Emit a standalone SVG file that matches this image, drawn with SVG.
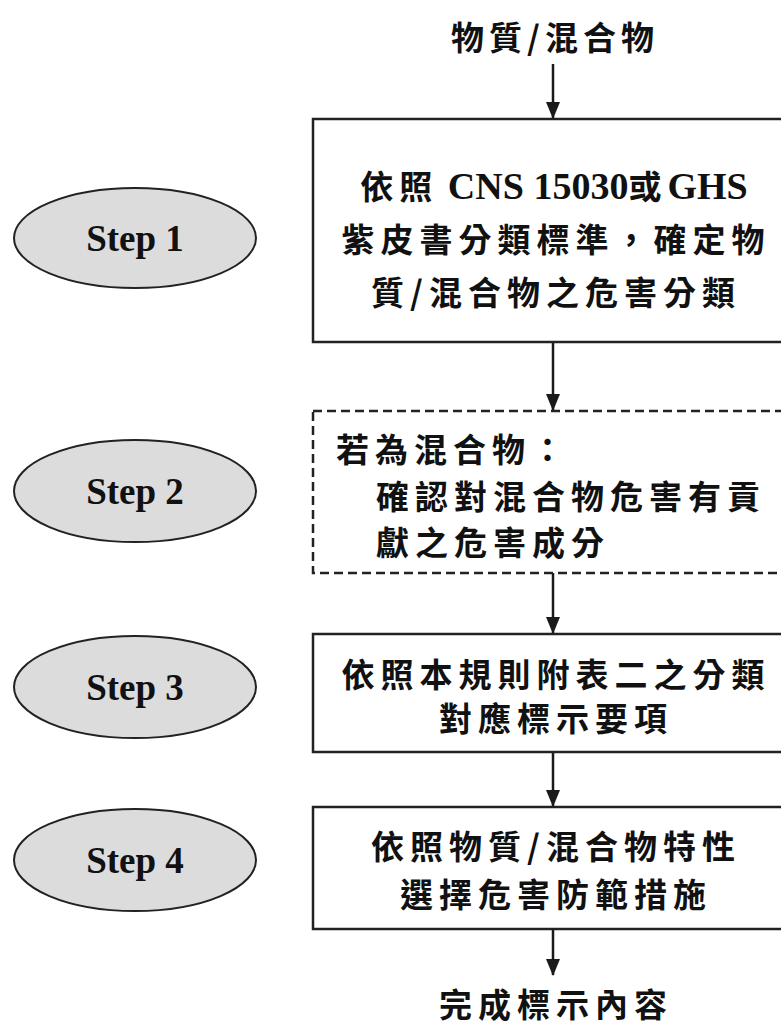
<svg xmlns="http://www.w3.org/2000/svg" width="781" height="1026" viewBox="0 0 781 1026">
<defs>
<marker id="ah" markerWidth="17" markerHeight="14" refX="16" refY="7" orient="auto" markerUnits="userSpaceOnUse" viewBox="0 0 17 14">
<path d="M0,0 L17,7 L0,14 Z" fill="#1a1a1a"/>
</marker>
<style>
.box{fill:#fff;stroke:#222;stroke-width:2.5}
.dash{fill:#fff;stroke:#222;stroke-width:2.5;stroke-dasharray:9 5}
.ell{fill:#dcdcdc;stroke:#222;stroke-width:2}
.step{font-family:"Liberation Serif",serif;font-weight:bold;font-size:37px;fill:#111;text-anchor:middle}
.zh{font-family:"Noto Sans CJK TC","Noto Sans CJK SC",sans-serif;font-weight:bold;font-size:33px;letter-spacing:6px;fill:#111}
.mid{text-anchor:middle}
.lat{font-family:"Liberation Serif",serif;font-weight:bold;font-size:38px;letter-spacing:0}
.conn{stroke:#1a1a1a;stroke-width:2.5;fill:none}
</style>
</defs>

<g id="connectors">
<line class="conn" x1="553" y1="64" x2="553" y2="118" marker-end="url(#ah)"/>
<line class="conn" x1="553" y1="343" x2="553" y2="410" marker-end="url(#ah)"/>
<line class="conn" x1="553" y1="573" x2="553" y2="633" marker-end="url(#ah)"/>
<line class="conn" x1="553" y1="752" x2="553" y2="806" marker-end="url(#ah)"/>
<line class="conn" x1="553" y1="929" x2="553" y2="975" marker-end="url(#ah)"/>
</g>

<g id="start">
<text class="zh mid" x="555" y="50" style="letter-spacing:5px;font-size:33px">物質/混合物</text>
</g>

<g id="step1">
<ellipse class="ell" cx="135" cy="238" rx="121" ry="50"/>
<text class="step" x="135" y="251">Step 1</text>
</g>
<g id="box1">
<rect class="box" x="313" y="119" width="480" height="223"/>
<text class="zh mid" x="554" y="199">依照<tspan class="lat"> CNS 15030</tspan>或<tspan class="lat">GHS</tspan></text>
<text class="zh mid" x="556" y="252">紫皮書分類標準，確定物</text>
<text class="zh mid" x="556" y="305">質/混合物之危害分類</text>
</g>

<g id="step2">
<ellipse class="ell" cx="135" cy="491" rx="121" ry="51"/>
<text class="step" x="135" y="504">Step 2</text>
</g>
<g id="box2">
<rect class="dash" x="313" y="411" width="480" height="162"/>
<text class="zh" x="336" y="462">若為混合物：</text>
<text class="zh" x="376" y="509">確認對混合物危害有貢</text>
<text class="zh" x="376" y="555">獻之危害成分</text>
</g>

<g id="step3">
<ellipse class="ell" cx="135" cy="687" rx="121" ry="51"/>
<text class="step" x="135" y="700">Step 3</text>
</g>
<g id="box3">
<rect class="box" x="313" y="634" width="480" height="118"/>
<text class="zh mid" x="556" y="687">依照本規則附表二之分類</text>
<text class="zh mid" x="556" y="731">對應標示要項</text>
</g>

<g id="step4">
<ellipse class="ell" cx="135" cy="860" rx="121" ry="51"/>
<text class="step" x="135" y="873">Step 4</text>
</g>
<g id="box4">
<rect class="box" x="313" y="807" width="480" height="122"/>
<text class="zh mid" x="556" y="859">依照物質/混合物特性</text>
<text class="zh mid" x="556" y="907">選擇危害防範措施</text>
</g>

<g id="end">
<text class="zh mid" x="556" y="1017">完成標示內容</text>
</g>
</svg>
